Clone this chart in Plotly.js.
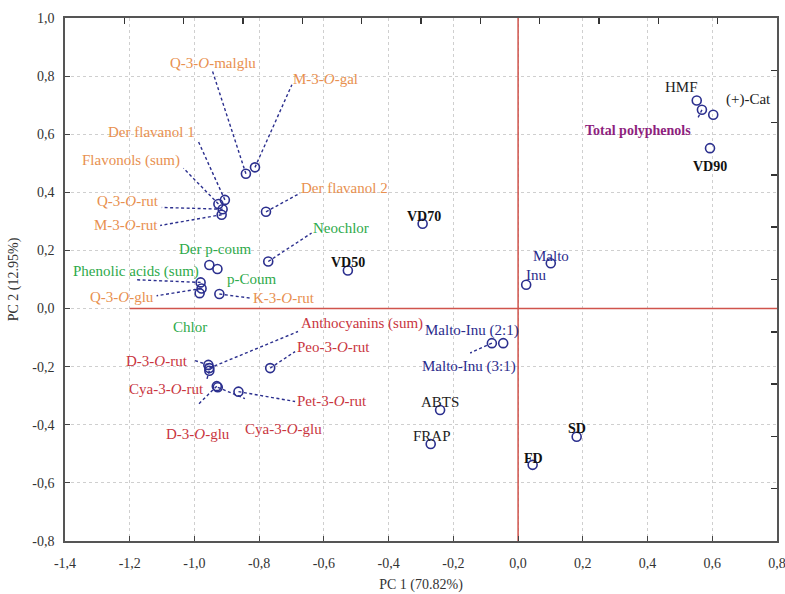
<!DOCTYPE html>
<html>
<head>
<meta charset="utf-8">
<script src="https://cdn.plot.ly/plotly-3.0.1.min.js"></script>
<style>html,body{margin:0;padding:0;background:#fff;}#chart{width:785px;height:594px;}</style>
</head>
<body>
<div id="chart"></div>
<script>
// ---- data ----
const pointNames = ["Q-3-<i>O</i>-malglu","M-3-<i>O</i>-gal","Der flavanol 1","Flavonols (sum)","Q-3-<i>O</i>-rut","M-3-<i>O</i>-rut","Der flavanol 2",
  "Neochlor","Der p-coum","p-Coum","Phenolic acids (sum)","Q-3-<i>O</i>-glu","Chlor","K-3-<i>O</i>-rut",
  "D-3-<i>O</i>-rut","Anthocyanins (sum)","Cya-3-<i>O</i>-rut","Peo-3-<i>O</i>-rut","D-3-<i>O</i>-glu","Cya-3-<i>O</i>-glu","Pet-3-<i>O</i>-rut",
  "VD50","VD70","VD90","HMF","Total polyphenols","(+)-Cat","Malto","Inu","Malto-Inu (2:1)","Malto-Inu (3:1)","ABTS","FRAP","SD","FD"];
const pc1 = [-0.841,-0.813,-0.906,-0.926,-0.913,-0.916,-0.779,
  -0.772,-0.954,-0.929,-0.981,-0.978,-0.984,-0.923,
  -0.957,-0.954,-0.954,-0.766,-0.931,-0.928,-0.864,
  -0.526,-0.295,0.593,0.552,0.568,0.603,0.101,0.025,-0.046,-0.081,-0.241,-0.270,0.181,0.045];
const pc2 = [0.464,0.486,0.374,0.360,0.342,0.323,0.333,
  0.162,0.150,0.136,0.090,0.069,0.053,0.050,
  -0.194,-0.205,-0.214,-0.205,-0.267,-0.271,-0.286,
  0.131,0.292,0.552,0.716,0.684,0.667,0.156,0.082,-0.119,-0.119,-0.349,-0.466,-0.441,-0.538];
const labelX = [-0.944,-0.595,-1.134,-1.195,-1.204,-1.212,-0.536,
  -0.546,-0.937,-0.823,-1.180,-1.223,-1.014,-0.723,
  -1.117,-0.482,-1.086,-0.571,-0.990,-0.725,-0.574,
  -0.525,-0.292,0.592,0.506,0.369,0.713,0.102,0.056,-0.142,-0.152,-0.240,-0.265,0.181,0.047];
const labelY = [0.845,0.791,0.607,0.509,0.371,0.286,0.415,
  0.277,0.206,0.101,0.127,0.041,-0.062,0.036,
  -0.179,-0.050,-0.277,-0.131,-0.431,-0.414,-0.317,
  0.160,0.317,0.489,0.761,0.612,0.719,0.181,0.116,-0.077,-0.200,-0.320,-0.437,-0.412,-0.515];
const labelGroup = ["flav","flav","flav","flav","flav","flav","flav",
  "phen","phen","phen","phen","flav","phen","flav",
  "antho","antho","antho","antho","antho","antho","antho",
  "sample","sample","sample","other","total","other","carrier","carrier","carrier","carrier","other","other","sample","sample"];
const leaderX = [-0.944,-0.699,-0.988,-1.034,-1.101,-1.106,-0.674,
  -0.638,null,null,-1.178,-1.117,null,-0.828,
  -1.004,-0.680,-0.962,-0.689,-0.989,-0.844,-0.689,
  null,null,null,null,0.556,null,null,null,null,-0.148,null,null,null,null];
const leaderY = [0.816,0.770,0.575,0.483,0.348,0.286,0.397,
  0.260,null,null,0.099,0.044,null,0.036,
  -0.177,-0.079,-0.245,-0.148,-0.331,-0.310,-0.320,
  null,null,null,null,0.657,null,null,null,null,-0.153,null,null,null,null];
const axisLineX = [-1.2, 0.8];
const xTickVals = [-1.4,-1.2,-1.0,-0.8,-0.6,-0.4,-0.2,0.0,0.2,0.4,0.6,0.8];
const xTickText = ["-1,4","-1,2","-1,0","-0,8","-0,6","-0,4","-0,2","0,0","0,2","0,4","0,6","0,8"];
const yTickVals = [-0.8,-0.6,-0.4,-0.2,0.0,0.2,0.4,0.6,0.8,1.0];
const yTickText = ["-0,8","-0,6","-0,4","-0,2","0,0","0,2","0,4","0,6","0,8","1,0"];
const topTicks = [1,2,3,4,5,6,7,8,9,10,11];
const rightTicks = [1,2,3,4,5,6,7,8,9];

// ---- styles ----
const groupStyle = {
  flav:{color:"#E8904F",weight:"normal",size:15},
  phen:{color:"#2EAA4A",weight:"normal",size:15},
  antho:{color:"#C9353E",weight:"normal",size:15},
  sample:{color:"#111111",weight:"bold",size:14},
  other:{color:"#222222",weight:"normal",size:15},
  total:{color:"#8E1F7E",weight:"bold",size:14},
  carrier:{color:"#2B2B8C",weight:"normal",size:15}
};
const navy = "#2B2F8E";
const serif = "Liberation Serif, Times New Roman, serif";
const eps = 1e-6;

const traces = [];
traces.push({x:[0,0], y:[-0.8,1.0], mode:"lines", line:{color:"#D0544C",width:1.5}, hoverinfo:"skip", showlegend:false});
traces.push({x:axisLineX, y:[0,0], mode:"lines", line:{color:"#D0544C",width:1.5}, hoverinfo:"skip", showlegend:false});
const lx=[], ly=[];
for (let i=0;i<pc1.length;i++){
  if (leaderX[i]!==null){ lx.push(pc1[i],leaderX[i],null); ly.push(pc2[i],leaderY[i],null); }
}
traces.push({x:lx,y:ly,mode:"lines",line:{color:navy,width:1.4,dash:"3px,2.5px"},hoverinfo:"skip",showlegend:false});
traces.push({x:pc1,y:pc2,mode:"markers",marker:{symbol:"circle-open",size:9,color:navy,line:{width:1.6,color:navy}},text:pointNames,hoverinfo:"text",showlegend:false});
// invisible carrier for the top/right tick axes
traces.push({x:[6],y:[5],xaxis:"x2",yaxis:"y2",mode:"markers",marker:{opacity:0,size:1},hoverinfo:"skip",showlegend:false});

const annotations = pointNames.map((t,i)=>{
  const s = groupStyle[labelGroup[i]];
  return {x:labelX[i],y:labelY[i],xref:"x",yref:"y",text:t,showarrow:false,xanchor:"center",yanchor:"middle",
    font:{family:serif,size:s.size,color:s.color,weight:s.weight}};
});

const layout = {
  width:785,height:594,
  margin:{l:65,r:8,t:18,b:53},
  paper_bgcolor:"#fff",plot_bgcolor:"#fff",
  font:{family:serif,size:14,color:"#333"},
  xaxis:{range:[-1.4-eps,0.8+eps],tickvals:xTickVals,ticktext:xTickText,ticks:"inside",ticklen:5,tickcolor:"#444",
    showgrid:true,gridcolor:"#cfcfcf",griddash:"dot",gridwidth:1,zeroline:false,ticklabeloverflow:"allow",
    showline:true,linecolor:"#555",linewidth:1.8,mirror:true,ticklabelstandoff:8,automargin:false,
    title:{text:"PC 1 (70.82%)",font:{family:serif,size:14,color:"#333"},standoff:10}},
  yaxis:{range:[-0.8-eps,1.0+eps],tickvals:yTickVals,ticktext:yTickText,ticks:"inside",ticklen:5,tickcolor:"#444",
    showgrid:true,gridcolor:"#cfcfcf",griddash:"dot",gridwidth:1,zeroline:false,ticklabeloverflow:"allow",
    showline:true,linecolor:"#555",linewidth:1.8,mirror:true,ticklabelstandoff:6,automargin:false,
    title:{text:"PC 2 (12.95%)",font:{family:serif,size:14,color:"#333"},standoff:10}},
  xaxis2:{overlaying:"x",side:"top",anchor:"y2",range:[0,12],tickvals:topTicks,ticks:"inside",ticklen:6,tickcolor:"#333",tickwidth:1.5,
    showticklabels:false,showgrid:false,zeroline:false,showline:false,automargin:false},
  yaxis2:{overlaying:"y",side:"right",anchor:"x2",range:[0,10],tickvals:rightTicks,ticks:"inside",ticklen:6,tickcolor:"#333",tickwidth:1.5,
    showticklabels:false,showgrid:false,zeroline:false,showline:false,automargin:false},
  annotations:annotations,
  showlegend:false
};
Plotly.newPlot("chart",traces,layout,{displayModeBar:false,staticPlot:true});
</script>
</body>
</html>
